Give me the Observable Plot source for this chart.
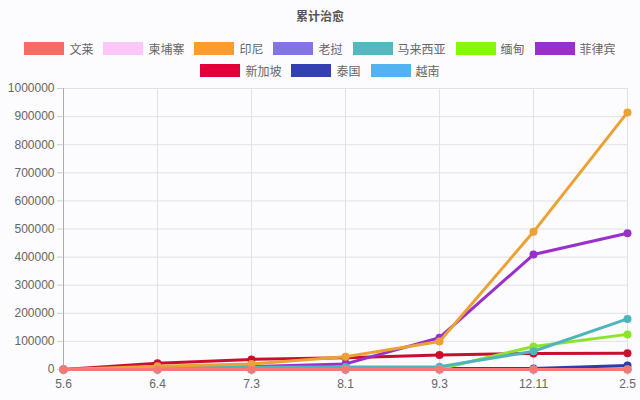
<!DOCTYPE html>
<html><head><meta charset="utf-8">
<script src="https://cdn.jsdelivr.net/npm/d3@7"></script>
<script src="https://cdn.jsdelivr.net/npm/@observablehq/plot@0.6"></script>
<style>
body{margin:0;background:#fcfbfd;font-family:"Liberation Sans","Noto Sans CJK SC",sans-serif;}
#wrap{width:640px;height:400px;position:relative;overflow:hidden;}
#title{position:absolute;top:7px;left:0;width:640px;text-align:center;font:bold 12px "Noto Sans CJK SC",sans-serif;color:#555;}
#legend{position:absolute;top:40px;left:0;width:640px;display:flex;flex-wrap:wrap;justify-content:center;row-gap:6px;padding:0 10px;box-sizing:border-box;}
.it{display:flex;align-items:center;margin:0 5px;font:12px "Noto Sans CJK SC",sans-serif;color:#666;height:16px;}
.sw{width:40px;height:13px;margin-right:5px;}
#chart{position:absolute;top:80px;left:0;}
</style></head>
<body><div id="wrap"><div id="title">累计治愈</div><div id="legend"></div><div id="chart"></div></div>
<script>
const dates = ["5.6","6.4","7.3","8.1","9.3","12.11","2.5"];
const countries = ["文莱","柬埔寨","印尼","老挝","马来西亚","缅甸","菲律宾","新加坡","泰国","越南"];
const colors = ["#f76b63","#fcc6f8","#fd9c2c","#8374e6","#55b7bf","#84f80a","#9a2fcb","#e3003a","#3340b0","#52b3f0"];
const lineColors = ["#f27a72","#f5b8ef","#eba133","#7a62e0","#4fb5bd","#8de52a","#9a2fcb","#c8102e","#2d3ca6","#4aa8e8"];
const v文莱 = [0,100,140,140,150,170,200];
const v柬埔寨 = [0,100,130,200,270,300,380];
const v印尼 = [0,12000,20000,45000,100000,490000,915000];
const v老挝 = [0,10,19,22,22,40,45];
const v马来西亚 = [0,5000,8000,8800,9500,65000,180000];
const v缅甸 = [0,100,200,300,2000,82000,125000];
const v菲律宾 = [0,3000,10000,20000,113000,409000,485000];
const v新加坡 = [0,22000,36000,42000,52000,57000,58000];
const v泰国 = [0,3000,3100,3200,3300,3800,14000];
const v越南 = [0,300,350,400,950,1300,1400];
const series = [v文莱,v柬埔寨,v印尼,v老挝,v马来西亚,v缅甸,v菲律宾,v新加坡,v泰国,v越南];
const yTicks = [0,100000,200000,300000,400000,500000,600000,700000,800000,900000,1000000];

const leg = document.getElementById("legend");
countries.forEach((c,i)=>{
  const d=document.createElement("div");d.className="it";
  d.innerHTML=`<span class="sw" style="background:${colors[i]}"></span><span>${c}</span>`;
  leg.appendChild(d);
});

const data = [];
countries.forEach((c,i)=>dates.forEach((d,j)=>data.push({country:c,date:d,value:series[i][j],order:i})));
const marks = [
  Plot.gridY(yTicks,{stroke:"#e2e0e6",strokeOpacity:1}),
  Plot.gridX(dates,{stroke:"#e2e0e6",strokeOpacity:1}),
  Plot.axisY(yTicks,{tickFormat:d3.format("d"),tickSize:5,tickPadding:3,fontSize:12,fill:"#666",stroke:"#ccc",label:null}),
  Plot.axisX(dates,{tickSize:6,tickPadding:4,fontSize:12,fill:"#666",stroke:"#ccc",label:null}),
  Plot.ruleX([dates[0]],{stroke:"#aaa"}),
  Plot.ruleY([0],{stroke:"#ccc"})
];
for(let i=countries.length-1;i>=0;i--){
  const sub = data.filter(d=>d.order===i);
  marks.push(Plot.line(sub,{x:"date",y:"value",stroke:lineColors[i],strokeWidth:3}));
  marks.push(Plot.dot(sub,{x:"date",y:"value",fill:lineColors[i],r:4}));
}
const chart = Plot.plot({
  width:640,height:320,marginTop:8,marginBottom:31,marginLeft:62,marginRight:12,
  style:{background:"transparent",fontFamily:"Liberation Sans, sans-serif"},
  x:{type:"point",domain:dates,padding:0},
  y:{domain:[0,1000000]},
  marks
});
document.getElementById("chart").appendChild(chart);
</script></body></html>
